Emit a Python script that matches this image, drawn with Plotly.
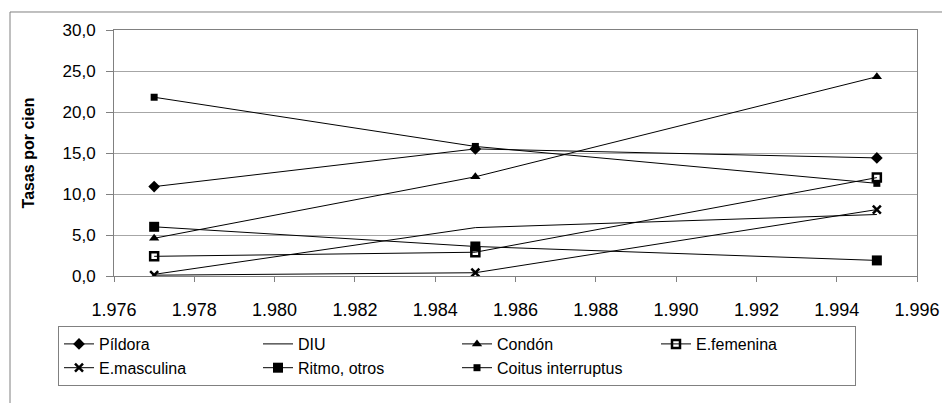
import plotly.graph_objects as go

years = [1977, 1985, 1995]
series_names = ["Píldora", "DIU", "Condón", "E.femenina", "E.masculina", "Ritmo, otros", "Coitus interruptus"]
pildora = [10.9, 15.5, 14.4]
diu = [0.2, 5.9, 7.5]
condon = [4.6, 12.1, 24.3]
efemenina = [2.4, 2.9, 12.0]
emasculina = [0.1, 0.4, 8.1]
ritmo = [6.0, 3.6, 1.9]
coitus = [21.8, 15.8, 11.3]

x_tickvals = [1976, 1978, 1980, 1982, 1984, 1986, 1988, 1990, 1992, 1994, 1996]
x_ticktext = ["1.976", "1.978", "1.980", "1.982", "1.984", "1.986", "1.988", "1.990", "1.992", "1.994", "1.996"]
y_tickvals = [0, 5, 10, 15, 20, 25, 30]
y_ticktext = ["0,0", "5,0", "10,0", "15,0", "20,0", "25,0", "30,0"]

values = [pildora, diu, condon, efemenina, emasculina, ritmo, coitus]
markers = [
    dict(symbol="diamond", size=9, color="black"),
    None,
    dict(symbol="triangle-up", size=9, color="black"),
    dict(symbol="square-open", size=8, color="black", line=dict(width=2.5, color="black")),
    dict(symbol="x-thin-open", size=8, color="black", line=dict(width=2.5, color="black")),
    dict(symbol="square", size=10, color="black"),
    dict(symbol="square", size=7, color="black"),
]

FONT = "Liberation Sans, Arial, sans-serif"
W, H = 942, 395  # page body has an 8px offset

fig = go.Figure()
for name, vals, mk in zip(series_names, values, markers):
    if mk is None:
        fig.add_trace(go.Scatter(x=years, y=vals, name=name, mode="lines",
                                 line=dict(color="black", width=1)))
    else:
        fig.add_trace(go.Scatter(x=years, y=vals, name=name, mode="lines+markers",
                                 line=dict(color="black", width=1), marker=mk))

# outer chart border
fig.add_shape(type="rect", xref="paper", yref="paper",
              x0=-0.1295, x1=1.08, y0=-0.65, y1=1.0732,
              line=dict(color="#808080", width=1), fillcolor="rgba(0,0,0,0)", layer="below")

fig.update_layout(
    width=W, height=H,
    margin=dict(l=106, r=W - 909, t=22, b=H - 268, autoexpand=False),
    paper_bgcolor="white", plot_bgcolor="white",
    font=dict(family=FONT, color="black", size=15),
    showlegend=True,
    legend=dict(orientation="h", xref="container", yref="container",
                x=50/W, y=1 - 318/H, xanchor="left", yanchor="top",
                entrywidth=154, entrywidthmode="pixels",
                bordercolor="#808080", borderwidth=1,
                font=dict(family=FONT, size=16, color="black"),
                traceorder="normal"),
    xaxis=dict(range=[1976, 1996], tickvals=x_tickvals, ticktext=x_ticktext,
               showgrid=False, zeroline=False, showline=True, linecolor="#808080",
               linewidth=1, mirror=True, ticks="outside", ticklen=5, tickcolor="#808080",
               ticklabelstandoff=12, tickfont=dict(size=18)),
    yaxis=dict(range=[0, 30], tickvals=y_tickvals, ticktext=y_ticktext,
               showgrid=True, gridcolor="#a6a6a6", gridwidth=1, zeroline=False,
               showline=True, linecolor="#808080", linewidth=1, mirror=True,
               ticks="outside", ticklen=7, tickcolor="#808080",
               ticklabelstandoff=7, tickfont=dict(size=17),
               title=dict(text="<b>Tasas por cien</b>", font=dict(size=16), standoff=23)),
)

fig.write_html("out.html")
